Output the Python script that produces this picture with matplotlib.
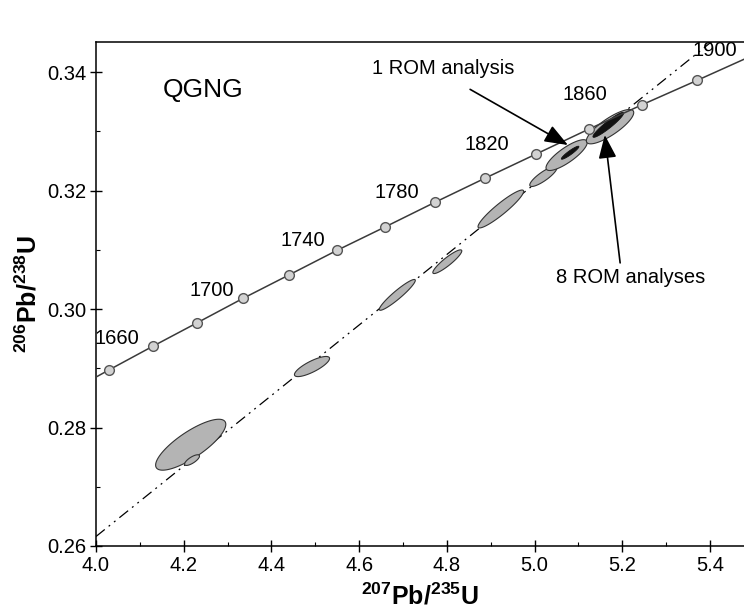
import numpy as np
import matplotlib
matplotlib.use("Agg")
import matplotlib.pyplot as plt
from matplotlib.ticker import MultipleLocator
from matplotlib.patches import Polygon

plt.rcParams["font.family"] = ["Liberation Sans", "DejaVu Sans"]
plt.rcParams["mathtext.fontset"] = "custom"
plt.rcParams["mathtext.rm"] = "Liberation Sans"
plt.rcParams["mathtext.bf"] = "Liberation Sans:bold"

# concordia points, ages in Ma
conc_age = [1620, 1640, 1660, 1680, 1700, 1720, 1740, 1760, 1780, 1800,
            1820, 1840, 1860, 1880, 1900]
conc_x = [3.931, 4.029, 4.129, 4.231, 4.335, 4.441, 4.549, 4.660, 4.772,
          4.887, 5.004, 5.124, 5.245, 5.370, 5.496]
conc_y = [0.2857, 0.2897, 0.2937, 0.2977, 0.3018, 0.3058, 0.3099, 0.3139,
          0.3180, 0.3221, 0.3262, 0.3304, 0.3345, 0.3386, 0.3428]

# age labels
age_labels = ["1660", "1700", "1740", "1780", "1820", "1860", "1900"]
age_lab_x = [4.048, 4.264, 4.472, 4.686, 4.891, 5.115, 5.411]
age_lab_y = [0.2951, 0.3032, 0.3115, 0.3197, 0.3278, 0.3363, 0.3437]

# discordia
disc_x = [4.0, 5.48]
disc_y = [0.2616, 0.3497]

# error ellipses: centre x, centre y, half-extent x, half-extent y, rho
ell_x = [4.216, 4.219, 4.4925, 4.687, 4.801, 4.923, 5.020, 5.073, 5.172]
ell_y = [0.2771, 0.2745, 0.2903, 0.3024, 0.3080, 0.3169, 0.3224, 0.3260, 0.3308]
ell_sx = [0.080, 0.017, 0.040, 0.041, 0.033, 0.052, 0.031, 0.047, 0.054]
ell_sy = [0.0043, 0.0009, 0.0017, 0.0026, 0.0020, 0.0032, 0.0017, 0.0026, 0.0029]
ell_rho = [0.80, 0.75, 0.80, 0.94, 0.91, 0.93, 0.85, 0.82, 0.82]

# ROM analyses (dark ellipses)
rom_x = [5.081, 5.168]
rom_y = [0.3264, 0.3311]
rom_sx = [0.020, 0.035]
rom_sy = [0.0011, 0.0021]
rom_rho = [0.93, 0.94]


def ellipse_pts(cx, cy, sx, sy, rho, n=120):
    cov = np.array([[sx**2, rho*sx*sy], [rho*sx*sy, sy**2]])
    L = np.linalg.cholesky(cov)
    t = np.linspace(0, 2*np.pi, n)
    circ = np.vstack([np.cos(t), np.sin(t)])
    pts = L @ circ
    return np.column_stack([pts[0] + cx, pts[1] + cy])


fig = plt.figure(figsize=(7.44, 6.11), dpi=100)
ax = fig.add_axes([0.129, 0.1064, 0.871, 0.8249])

ax.plot(disc_x, disc_y, color="black", lw=0.9,
        ls=(0, (9, 4, 1.5, 4, 1.5, 4)), zorder=1)

for cx, cy, sx, sy, r in zip(ell_x, ell_y, ell_sx, ell_sy, ell_rho):
    ax.add_patch(Polygon(ellipse_pts(cx, cy, sx, sy, r), closed=True,
                         facecolor="#b4b4b4", edgecolor="#333333",
                         lw=0.8, zorder=2))
for cx, cy, sx, sy, r in zip(rom_x, rom_y, rom_sx, rom_sy, rom_rho):
    ax.add_patch(Polygon(ellipse_pts(cx, cy, sx, sy, r), closed=True,
                         facecolor="#111111", edgecolor="#111111",
                         lw=0.6, zorder=3))

ax.plot(conc_x, conc_y, color="#3a3a3a", lw=1.1, zorder=4)
ax.plot(conc_x[1:-1], conc_y[1:-1], ls="none", marker="o", ms=7,
        mfc="#d2d2d2", mec="#555555", mew=1.0, zorder=5)

for lab, x, y in zip(age_labels, age_lab_x, age_lab_y):
    ax.text(x, y, lab, fontsize=14.5, ha="center", va="center", zorder=6)

ax.text(4.244, 0.3370, "QGNG", fontsize=19, ha="center", va="center")

arrow = dict(arrowstyle="-|>,head_length=0.65,head_width=0.25",
             color="black", lw=1.2, mutation_scale=22, shrinkA=0, shrinkB=0)
ax.annotate("", xy=(5.076, 0.3277), xytext=(4.853, 0.3371),
            arrowprops=arrow, zorder=7)
ax.text(4.791, 0.3407, "1 ROM analysis", fontsize=14.5,
        ha="center", va="center")
ax.annotate("", xy=(5.160, 0.3294), xytext=(5.195, 0.3078),
            arrowprops=arrow, zorder=7)
ax.text(5.220, 0.3054, "8 ROM analyses", fontsize=14.5,
        ha="center", va="center")

ax.set_xlim(4.0, 5.4774)
ax.set_ylim(0.26, 0.3451)
ax.xaxis.set_minor_locator(MultipleLocator(0.1))
ax.yaxis.set_minor_locator(MultipleLocator(0.01))
ax.set_xticks(np.arange(4.0, 5.41, 0.2))
ax.set_xticklabels([f"{v:.1f}" for v in np.arange(4.0, 5.41, 0.2)])
ax.set_yticks(np.arange(0.26, 0.341, 0.02))
ax.set_yticklabels([f"{v:.2f}" for v in np.arange(0.26, 0.341, 0.02)])
ax.tick_params(which="major", direction="inout", length=8, width=1.0,
               labelsize=14.5)
ax.tick_params(axis="x", which="major", pad=3)
ax.tick_params(axis="y", which="major", pad=3)
ax.tick_params(which="minor", direction="in", length=3, width=0.8)
ax.spines["right"].set_visible(False)
for s in ["left", "bottom", "top"]:
    ax.spines[s].set_linewidth(1.1)

ax.set_xlabel(r"$\mathbf{^{207}Pb/^{235}U}$", fontsize=18, labelpad=6)
ax.set_ylabel(r"$\mathbf{^{206}Pb/^{238}U}$", fontsize=18, labelpad=4)

fig.savefig("out.png", dpi=100)
